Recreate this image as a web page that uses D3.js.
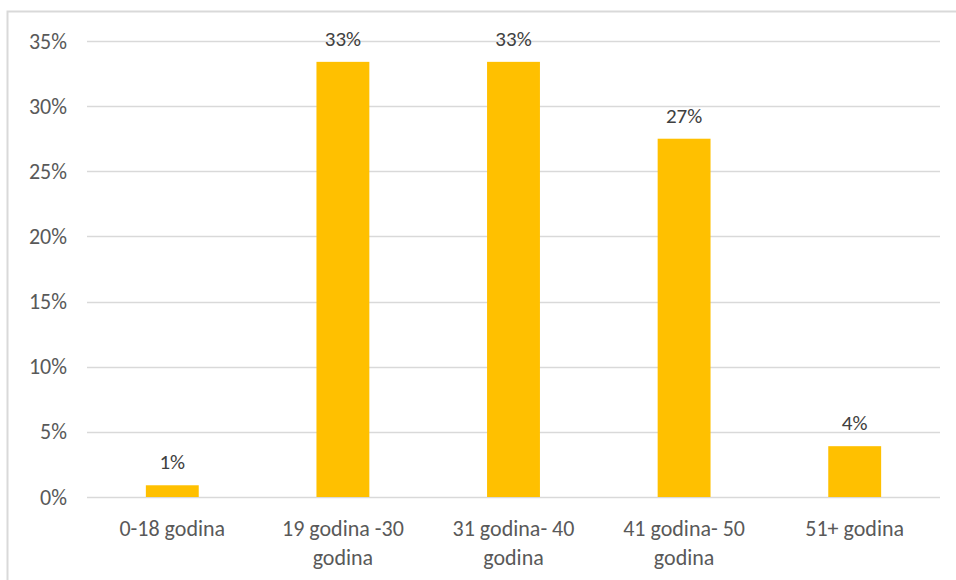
<!DOCTYPE html>
<html>
<head>
<meta charset="utf-8">
<script src="https://cdn.jsdelivr.net/npm/d3@7"></script>
<style>
  body { margin: 0; background: #fff; }
  svg { display: block; font-family: Carlito, Lato, "Open Sans", sans-serif; }
  .axis text { fill: #595959; font-size: 22px; font-family: Carlito, Lato, "Open Sans", sans-serif; }
  .bar-label { fill: #404040; font-size: 21px; text-anchor: middle; }
</style>
</head>
<body>
<div id="chart"></div>
<script>
// age groups and share of respondents
const categories = [
  ['0-18 godina'],
  ['19 godina -30', 'godina'],
  ['31 godina- 40', 'godina'],
  ['41 godina- 50', 'godina'],
  ['51+ godina']
];
const values = [0.009, 0.334, 0.334, 0.275, 0.039];
const valueLabels = ['1%', '33%', '33%', '27%', '4%'];
const yTicks = [0, 0.05, 0.10, 0.15, 0.20, 0.25, 0.30, 0.35];

const width = 956, height = 580;
const margin = { left: 87, right: 16, top: 41, bottom: 83 };

const svg = d3.select('#chart').append('svg')
  .attr('width', width)
  .attr('height', height);

// chart frame
svg.append('rect')
  .attr('x', 7.5).attr('y', 11.5)
  .attr('width', width).attr('height', height)
  .attr('fill', 'none')
  .attr('stroke', '#d9d9d9')
  .attr('stroke-width', 2);

const x = d3.scaleBand()
  .domain(d3.range(categories.length))
  .range([margin.left, width - margin.right])
  .paddingInner(0.69).paddingOuter(0.345);

const y = d3.scaleLinear()
  .domain([0, 0.35])
  .range([height - margin.bottom, margin.top]);

// gridlines
svg.append('g').attr('class', 'grid')
  .selectAll('line').data(yTicks).enter()
  .append('line')
  .attr('x1', margin.left).attr('x2', width - margin.right)
  .attr('y1', d => Math.round(y(d)) + 0.5)
  .attr('y2', d => Math.round(y(d)) + 0.5)
  .attr('stroke', '#d9d9d9')
  .attr('stroke-width', 1.5);

const yAxis = d3.axisLeft(y)
  .tickValues(yTicks)
  .tickFormat(d3.format('.0%'))
  .tickSize(0).tickPadding(20);

svg.append('g')
  .attr('class', 'y axis')
  .attr('transform', `translate(${margin.left},0)`)
  .call(yAxis)
  .call(g => g.select('.domain').remove());

// bars
svg.append('g').attr('class', 'plots')
  .selectAll('rect').data(values).enter()
  .append('rect')
  .attr('x', (d, i) => x(i))
  .attr('y', d => y(d))
  .attr('width', x.bandwidth())
  .attr('height', d => y(0) - y(d))
  .attr('fill', '#ffc000');

svg.append('g')
  .selectAll('text').data(values).enter()
  .append('text')
  .attr('class', 'bar-label')
  .attr('x', (d, i) => x(i) + x.bandwidth() / 2)
  .attr('y', d => y(d) - 16)
  .text((d, i) => valueLabels[i]);

// category labels (two lines where wrapped)
const xLabels = svg.append('g').attr('class', 'x axis')
  .selectAll('text').data(categories).enter()
  .append('text')
  .attr('text-anchor', 'middle')
  .attr('x', (d, i) => x(i) + x.bandwidth() / 2)
  .attr('y', y(0) + 39);

xLabels.selectAll('tspan').data(d => d).enter()
  .append('tspan')
  .attr('x', function () { return this.parentNode.getAttribute('x'); })
  .attr('dy', (d, i) => i === 0 ? 0 : 29)
  .text(d => d);
</script>
</body>
</html>
